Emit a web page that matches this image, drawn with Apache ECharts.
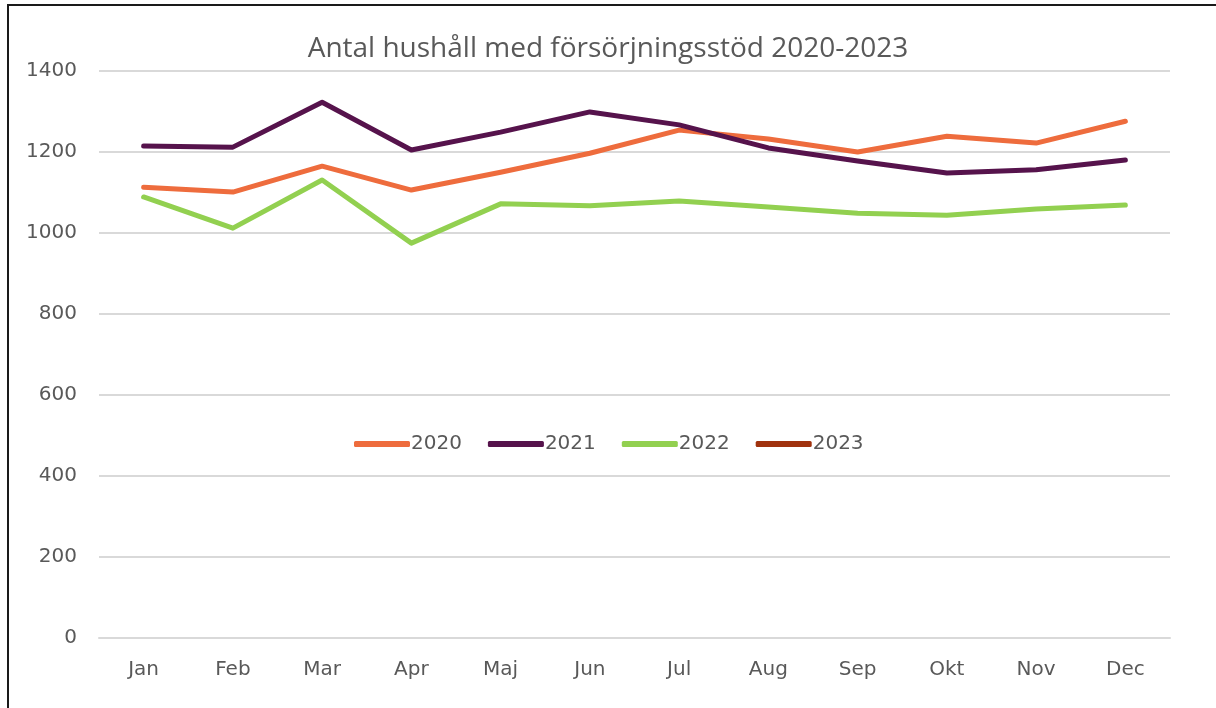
<!DOCTYPE html>
<html><head><meta charset="utf-8">
<script src="https://cdn.jsdelivr.net/npm/echarts@6/dist/echarts.min.js"></script>
<style>html,body{margin:0;padding:0;background:#fff}#c{width:1216px;height:708px}</style>
</head><body><div id="c"></div>
<script>
const months = ['Jan','Feb','Mar','Apr','Maj','Jun','Jul','Aug','Sep','Okt','Nov','Dec'];
const y2020 = [1113,1101,1165,1106,1150,1197,1254,1232,1200,1239,1222,1276];
const y2021 = [1215,1212,1323,1205,1249,1299,1267,1210,1178,1148,1156,1180];
const y2022 = [1089,1012,1131,975,1072,1067,1079,1064,1049,1044,1059,1069];
const y2023 = [];
const seriesNames = ['2020','2021','2022','2023'];
const colors = ['#EE6C3D','#56134C','#92D050','#A0320E'];
const font = '"DejaVu Sans", sans-serif';
const chart = echarts.init(document.getElementById('c'));
const mk = (name, data, i) => ({
  name, type:'line', data, symbol:'none', smooth:false,
  lineStyle:{color:colors[i], width:5, cap:'round', join:'round'},
  itemStyle:{color:colors[i]}
});
chart.setOption({
  animation:false,
  graphic:[{type:'rect', shape:{x:8,y:5,width:1230,height:720}, style:{fill:'none', stroke:'#1a1a1a', lineWidth:2}, silent:true}],
  title:{text:'Antal hushåll med försörjningsstöd 2020-2023', left:'center', top:30,
    textStyle:{fontFamily:'"Open Sans", sans-serif', fontSize:28, fontWeight:'normal', color:'#595959'}},
  legend:{data:seriesNames, left:354, top:434, padding:0, itemWidth:56, itemHeight:6, itemGap:26, icon:'roundRect',
    textStyle:{fontFamily:font, fontSize:20, color:'#595959', padding:[0,0,0,-4]}},
  grid:{left:99, right:46, top:71, bottom:70, containLabel:false},
  xAxis:{type:'category', data:months, boundaryGap:true,
    axisLine:{show:true, lineStyle:{color:'#d9d9d9', width:2}}, axisTick:{show:false},
    axisLabel:{fontFamily:font, fontSize:20, color:'#595959', margin:22}},
  yAxis:{type:'value', min:0, max:1400, interval:200,
    axisLine:{show:false}, axisTick:{show:false},
    splitLine:{lineStyle:{color:'#d9d9d9', width:2}},
    axisLabel:{fontFamily:font, fontSize:20, color:'#595959', margin:22, formatter:v=>String(v)}},
  series:[mk('2020',y2020,0), mk('2021',y2021,1), mk('2022',y2022,2), mk('2023',y2023,3)]
});
</script></body></html>
